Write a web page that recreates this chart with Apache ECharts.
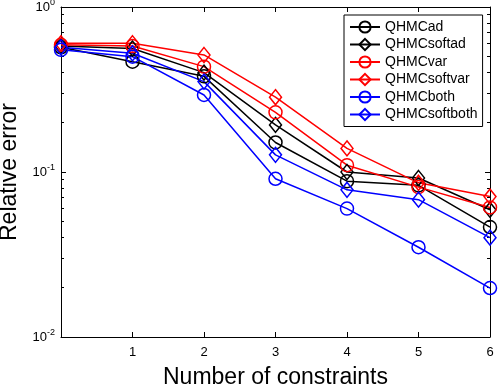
<!DOCTYPE html>
<html>
<head>
<meta charset="utf-8">
<script src="https://cdn.jsdelivr.net/npm/echarts@6/dist/echarts.min.js"></script>
<style>
  html, body { margin: 0; padding: 0; background: #fff; }
  #chart { width: 498px; height: 387px; }
</style>
</head>
<body>
<div id="chart"></div>
<script>
const constraints = [0, 1, 2, 3, 4, 5, 6];
const qhmcAd = [0.57, 0.466, 0.38, 0.151, 0.088, 0.083, 0.0464];
const qhmcSoftAd = [0.58, 0.56, 0.40, 0.193, 0.100, 0.092, 0.059];
const qhmcVar = [0.59, 0.58, 0.435, 0.230, 0.110, 0.081, 0.061];
const qhmcSoftVar = [0.603, 0.603, 0.512, 0.284, 0.139, 0.086, 0.071];
const qhmcBoth = [0.55, 0.50, 0.293, 0.091, 0.060, 0.035, 0.0198];
const qhmcSoftBoth = [0.57, 0.524, 0.353, 0.127, 0.078, 0.068, 0.040];
const minorTicks = [0.02, 0.03, 0.04, 0.05, 0.06, 0.07, 0.08, 0.09, 0.2, 0.3, 0.4, 0.5, 0.6, 0.7, 0.8, 0.9];

const font = 'Liberation Sans, Arial, sans-serif';
const chart = echarts.init(document.getElementById('chart'));

function pairs(ys) {
  return constraints.map((x, i) => [x, ys[i]]);
}

function makeSeries(name, ys, color, symbol) {
  return {
    name: name,
    type: 'line',
    data: pairs(ys),
    symbol: symbol,
    symbolSize: symbol === 'diamond' ? [12, 15] : 13,
    lineStyle: { color: color, width: 1.5 },
    itemStyle: { color: 'rgba(0,0,0,0)', borderColor: color, borderWidth: 1.5 },
    emphasis: { disabled: true },
    animation: false
  };
}

const logAxisBase = {
  type: 'log',
  logBase: 10,
  min: 0.01,
  max: 1,
  splitLine: { show: false },
  axisLine: { show: true, lineStyle: { color: '#000', width: 1 } }
};

// minor ticks drawn on a linear axis in log10 space
function minorAxis(position) {
  return {
    type: 'value',
    min: -2,
    max: 0,
    position: position,
    splitLine: { show: false },
    axisLine: { show: false },
    axisTick: {
      show: true,
      inside: true,
      length: 3,
      customValues: minorTicks.map(v => Math.log10(v)),
      lineStyle: { color: '#000' }
    },
    axisLabel: { show: false }
  };
}

chart.setOption({
  animation: false,
  grid: { left: 61, right: 8, top: 7, bottom: 50, containLabel: false, outerBoundsMode: 'none' },
  legend: {
    orient: 'vertical',
    left: 344,
    top: 15,
    padding: [5, 5, 5, 5],
    itemGap: 3.5,
    itemWidth: 30,
    itemHeight: 14,
    backgroundColor: '#fff',
    borderColor: '#000',
    borderWidth: 1,
    textStyle: { fontFamily: font, fontSize: 14, color: '#000' },
    data: ['QHMCad', 'QHMCsoftad', 'QHMCvar', 'QHMCsoftvar', 'QHMCboth', 'QHMCsoftboth']
  },
  xAxis: [
    {
      type: 'value',
      min: 0,
      max: 6,
      interval: 1,
      position: 'bottom',
      name: 'Number of constraints',
      nameLocation: 'middle',
      nameGap: 29,
      nameTextStyle: { fontFamily: font, fontSize: 23, color: '#000' },
      splitLine: { show: false },
      axisLine: { show: true, onZero: false, lineStyle: { color: '#000', width: 1 } },
      axisTick: { show: true, inside: true, length: 5, lineStyle: { color: '#000' } },
      axisLabel: {
        margin: 9,
        fontFamily: font,
        fontSize: 13,
        color: '#000',
        formatter: v => (v === 0 ? '' : String(v))
      }
    },
    {
      type: 'value',
      min: 0,
      max: 6,
      interval: 1,
      position: 'top',
      splitLine: { show: false },
      axisLine: { show: true, onZero: false, lineStyle: { color: '#000', width: 1 } },
      axisTick: { show: true, inside: true, length: 5, lineStyle: { color: '#000' } },
      axisLabel: { show: false }
    }
  ],
  yAxis: [
    Object.assign({}, logAxisBase, {
      position: 'left',
      name: 'Relative error',
      nameLocation: 'middle',
      nameGap: 40,
      nameTextStyle: { fontFamily: font, fontSize: 23, color: '#000' },
      axisTick: { show: true, inside: true, length: 5, lineStyle: { color: '#000' } },
      axisLabel: {
        margin: 6,
        fontFamily: font,
        fontSize: 13,
        color: '#000',
        formatter: v => '{b|10}{s|' + Math.round(Math.log10(v)) + '}',
        rich: {
          b: { fontFamily: font, fontSize: 13, color: '#000' },
          s: { fontFamily: font, fontSize: 9, color: '#000', padding: [0, 0, 8, 0] }
        }
      }
    }),
    minorAxis('left'),
    Object.assign({}, logAxisBase, {
      position: 'right',
      axisTick: { show: true, inside: true, length: 5, lineStyle: { color: '#000' } },
      axisLabel: { show: false }
    }),
    minorAxis('right')
  ],
  series: [
    makeSeries('QHMCad', qhmcAd, '#000000', 'circle'),
    makeSeries('QHMCsoftad', qhmcSoftAd, '#000000', 'diamond'),
    makeSeries('QHMCvar', qhmcVar, '#ff0000', 'circle'),
    makeSeries('QHMCsoftvar', qhmcSoftVar, '#ff0000', 'diamond'),
    makeSeries('QHMCboth', qhmcBoth, '#0000ff', 'circle'),
    makeSeries('QHMCsoftboth', qhmcSoftBoth, '#0000ff', 'diamond')
  ]
});
</script>
</body>
</html>
